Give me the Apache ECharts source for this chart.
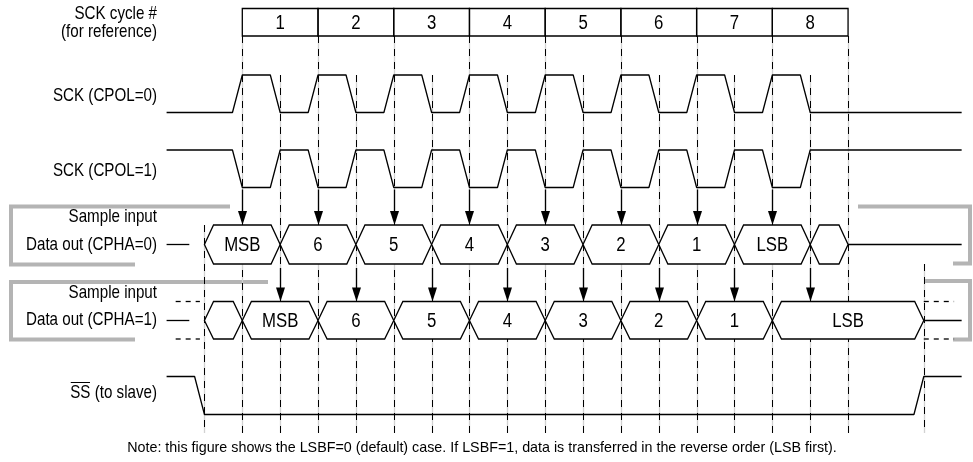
<!DOCTYPE html>
<html>
<head>
<meta charset="utf-8">
<script src="https://cdn.jsdelivr.net/npm/echarts@6/dist/echarts.min.js"></script>
<style>
  html, body { margin: 0; padding: 0; background: #fff; }
  #chart { width: 973px; height: 462px; }
</style>
</head>
<body>
<div id="chart"></div>
<script>
// time axis is counted in half SCK cycles, 0 = SS falling edge
var cycleNumbers = ['1', '2', '3', '4', '5', '6', '7', '8'];
var cycleStarts = [1, 3, 5, 7, 9, 11, 13, 15];
var cycleEnd = 17;
var midCycleEdges = [2, 4, 6, 8, 10, 12, 14, 16];
var sckEdges = [1, 2, 3, 4, 5, 6, 7, 8, 9, 10, 11, 12, 13, 14, 15, 16];
var ssFall = 0;
var ssRise = 19;
var tStart = -1;
var tEnd = 20;

// data bubbles: [from, to, label]
var cpha0Bits = [[0, 2, 'MSB'], [2, 4, '6'], [4, 6, '5'], [6, 8, '4'], [8, 10, '3'],
  [10, 12, '2'], [12, 14, '1'], [14, 16, 'LSB'], [16, 17, '']];
var cpha1Bits = [[0, 1, ''], [1, 3, 'MSB'], [3, 5, '6'], [5, 7, '5'], [7, 9, '4'],
  [9, 11, '3'], [11, 13, '2'], [13, 15, '1'], [15, 19, 'LSB']];
var cpha0Samples = [1, 3, 5, 7, 9, 11, 13, 15];
var cpha1Samples = [2, 4, 6, 8, 10, 12, 14, 16];

var headerLines = ['SCK cycle #', '(for reference)'];
var signalNames = ['SCK (CPOL=0)', 'SCK (CPOL=1)', 'Sample input', 'Data out (CPHA=0)',
  'Sample input', 'Data out (CPHA=1)', 'SS (to slave)'];
var note = 'Note: this figure shows the LSBF=0 (default) case. If LSBF=1, data is transferred in the reverse order (LSB first).';

// row layout (y axis in px-like units, top = 0)
var row = {
  box: { top: 8.5, bot: 36 },
  sck0: { hi: 75, lo: 112.5 },
  sck1: { hi: 150, lo: 187.5 },
  d0: { top: 225, mid: 244.5, bot: 264 },
  d1: { top: 301.5, mid: 320.5, bot: 339 },
  ss: { hi: 376.5, lo: 414.5 },
  dashEnd: 433
};
var labelY = [96, 171, 217, 245, 293, 320, 393];
var edgeW = 0.26;
var slope = 0.24;
var FONT = '"Liberation Sans", Arial, sans-serif';
var LABEL_FONT = '18.6px ' + FONT;
var LABEL_SX = 0.815;   // narrow look of the original lettering
var BIT_FONT = '19.5px ' + FONT;
var BIT_SX = 0.86;
var LW = 1.3;

function clock (hiFirst, r) {
  var pts = [[tStart, hiFirst ? r.hi : r.lo]];
  sckEdges.forEach(function (e, i) {
    var rising = (i % 2 === 0) !== hiFirst;
    pts.push([e - edgeW, rising ? r.lo : r.hi]);
    pts.push([e, rising ? r.hi : r.lo]);
  });
  pts.push([tEnd, pts[pts.length - 1][1]]);
  return pts;
}

var ssLine = [[tStart, row.ss.hi], [ssFall - edgeW, row.ss.hi], [ssFall, row.ss.lo],
  [ssRise - edgeW, row.ss.lo], [ssRise, row.ss.hi], [tEnd, row.ss.hi]];

var vlines = [];
cycleStarts.concat([cycleEnd]).forEach(function (t) { vlines.push([t, row.box.bot, row.dashEnd]) });
midCycleEdges.forEach(function (t) { vlines.push([t, row.sck0.hi, row.dashEnd]) });
vlines.push([ssFall, row.d0.top, row.dashEnd]);
vlines.push([ssRise, row.d0.bot, row.dashEnd]);

var arrows = [];
cpha0Samples.forEach(function (t) { arrows.push([t, row.sck1.lo + 2, row.d0.top]) });
cpha1Samples.forEach(function (t) { arrows.push([t, row.d0.bot + 4, row.d1.top]) });

var boxes = cycleStarts.map(function (t, i) { return [t, i < cycleStarts.length - 1 ? cycleStarts[i + 1] : cycleEnd] });

function plainLine (name, data, dash) {
  return {
    name: name, type: 'line', data: data, symbol: 'none', silent: true,
    lineStyle: { color: '#000', width: LW, type: dash ? [5, 5] : 'solid' }, z: 3
  };
}

function centerText (x, y, text, font, sx) {
  return { type: 'text', x: x, y: y, scaleX: sx, style: {
    text: text, fill: '#000', font: font,
    align: 'center', verticalAlign: 'middle', textAlign: 'center', textVerticalAlign: 'middle' } };
}

function bubbleSeries (bits, r) {
  return {
    type: 'custom', data: bits.map(function (b) { return [b[0], b[1]] }), z: 3, silent: true,
    renderItem: function (params, api) {
      var t0 = api.value(0), t1 = api.value(1);
      var c = function (t, y) { return api.coord([t, y]) };
      var pts = [c(t0, r.mid), c(t0 + slope, r.top), c(t1 - slope, r.top), c(t1, r.mid),
        c(t1 - slope, r.bot), c(t0 + slope, r.bot)];
      var mid = c((t0 + t1) / 2, r.mid);
      return {
        type: 'group', children: [
          { type: 'polygon', shape: { points: pts }, style: { fill: '#fff', stroke: '#000', lineWidth: LW } },
          centerText(mid[0], mid[1] + 1, bits[params.dataIndex][2], BIT_FONT, BIT_SX)
        ]
      };
    }
  };
}

function label (x, y, text) {
  return { type: 'text', x: x, y: y, scaleX: LABEL_SX, style: {
    text: text, font: LABEL_FONT, fill: '#000', align: 'right', verticalAlign: 'middle',
    textAlign: 'right', textVerticalAlign: 'middle' } };
}

// overline over "SS"
var ctx = document.createElement('canvas').getContext('2d');
ctx.font = LABEL_FONT;
var ssLabel = signalNames[6];
var ssX0 = 157 - ctx.measureText(ssLabel).width * LABEL_SX;
var ssX1 = ssX0 + ctx.measureText('SS').width * LABEL_SX;

var graphics = [
  { type: 'polyline', shape: { points: [[230, 206.5], [11, 206.5], [11, 264.5], [135, 264.5]] },
    style: { stroke: '#b4b4b4', lineWidth: 4, fill: 'none' } },
  { type: 'polyline', shape: { points: [[268, 282], [11, 282], [11, 339.5], [135, 339.5]] },
    style: { stroke: '#b4b4b4', lineWidth: 4, fill: 'none' } },
  { type: 'polyline', shape: { points: [[858, 206.5], [970, 206.5], [970, 263.5], [953, 263.5]] },
    style: { stroke: '#b4b4b4', lineWidth: 4, fill: 'none' } },
  { type: 'polyline', shape: { points: [[925, 281], [970, 281], [970, 339.5], [953, 339.5]] },
    style: { stroke: '#b4b4b4', lineWidth: 4, fill: 'none' } },
  label(157, 14, headerLines[0]),
  label(157, 32, headerLines[1]),
  { type: 'line', shape: { x1: ssX0 + 0.5, y1: 382.5, x2: ssX1 - 0.5, y2: 382.5 }, style: { stroke: '#000', lineWidth: 1 } },
  { type: 'text', x: 482, y: 448, style: { text: note, font: '14.3px ' + FONT, fill: '#000',
    align: 'center', verticalAlign: 'middle', textAlign: 'center', textVerticalAlign: 'middle' } }
];
signalNames.forEach(function (n, i) { graphics.push(label(157, labelY[i], n)) });

var chart = echarts.init(document.getElementById('chart'));
chart.setOption({
  animation: false,
  grid: { left: 0, right: 0, top: 0, bottom: 0 },
  xAxis: { type: 'value', min: -5.4, max: 20.3, show: false },
  yAxis: { type: 'value', min: 0, max: 462, inverse: true, show: false },
  series: [
    {
      type: 'custom', data: vlines, z: 1, silent: true,
      renderItem: function (params, api) {
        var a = api.coord([api.value(0), api.value(1)]);
        var b = api.coord([api.value(0), api.value(2)]);
        var x = Math.round(a[0]) + 0.5;
        var sh = { x1: x, y1: a[1], x2: x, y2: b[1] };
        return {
          type: 'group', children: [
            { type: 'line', shape: sh, style: { stroke: '#d2d2d2', lineWidth: 1.3 } },
            { type: 'line', shape: sh, style: { stroke: '#000', lineWidth: 1, lineDash: [7, 6] } }
          ]
        };
      }
    },
    {
      type: 'custom', data: boxes, z: 3, silent: true,
      renderItem: function (params, api) {
        var a = api.coord([api.value(0), row.box.top]);
        var b = api.coord([api.value(1), row.box.bot]);
        return {
          type: 'group', children: [
            { type: 'rect', shape: { x: a[0], y: a[1], width: b[0] - a[0], height: b[1] - a[1] },
              style: { fill: 'none', stroke: '#000', lineWidth: LW } },
            centerText((a[0] + b[0]) / 2, (a[1] + b[1]) / 2 + 1, cycleNumbers[params.dataIndex], BIT_FONT, BIT_SX)
          ]
        };
      }
    },
    plainLine('sck0', clock(false, row.sck0)),
    plainLine('sck1', clock(true, row.sck1)),
    plainLine('ss', ssLine),
    plainLine('d0l', [[tStart, row.d0.mid], [-0.4, row.d0.mid]]),
    plainLine('d0r', [[cycleEnd, row.d0.mid], [tEnd, row.d0.mid]]),
    plainLine('d1l', [[tStart, row.d1.mid], [-0.4, row.d1.mid]]),
    plainLine('d1r', [[ssRise, row.d1.mid], [tEnd, row.d1.mid]]),
    plainLine('d1lt', [[-0.76, row.d1.top], [-0.12, row.d1.top]], true),
    plainLine('d1lb', [[-0.76, row.d1.bot], [-0.12, row.d1.bot]], true),
    plainLine('d1rt', [[ssRise, row.d1.top], [19.8, row.d1.top]], true),
    plainLine('d1rb', [[ssRise, row.d1.bot], [19.8, row.d1.bot]], true),
    bubbleSeries(cpha0Bits, row.d0),
    bubbleSeries(cpha1Bits, row.d1),
    {
      type: 'custom', data: arrows, z: 4, silent: true,
      renderItem: function (params, api) {
        var a = api.coord([api.value(0), api.value(1)]);
        var b = api.coord([api.value(0), api.value(2)]);
        var x = Math.round(a[0]) + 0.5;
        return {
          type: 'group', children: [
            { type: 'line', shape: { x1: x, y1: a[1], x2: x, y2: b[1] - 12 }, style: { stroke: '#000', lineWidth: LW } },
            { type: 'polygon', shape: { points: [[x - 4.5, b[1] - 14], [x + 4.5, b[1] - 14], [x, b[1]]] },
              style: { fill: '#000', stroke: 'none' } }
          ]
        };
      }
    }
  ],
  graphic: graphics
});
</script>
</body>
</html>
